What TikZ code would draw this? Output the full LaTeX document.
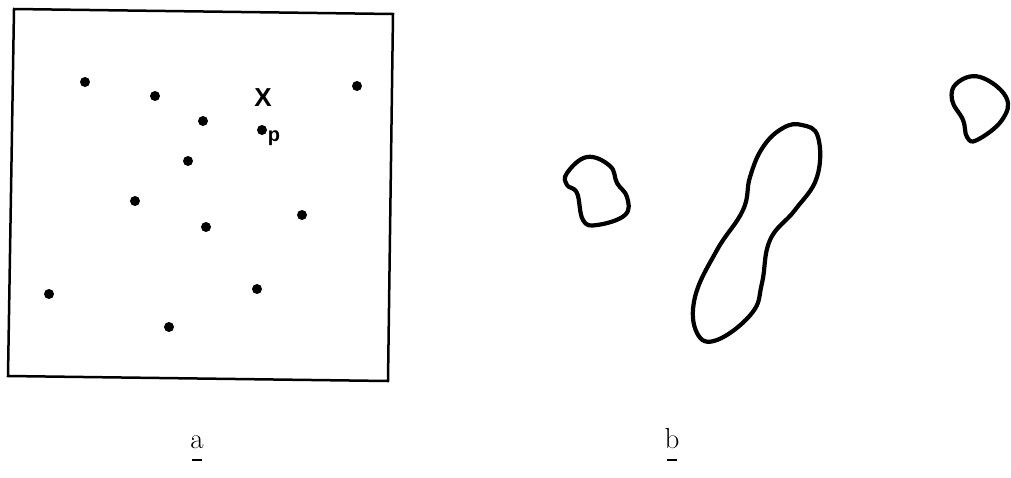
\documentclass[tikz,border=0pt]{standalone}
\usepackage{fontspec}
\newfontfamily\labsans{Liberation Sans}
\begin{document}
\begin{tikzpicture}[x=1pt,y=-1pt,
  dotmark/.style={fill=black},
  blob/.style={line width=4.2pt, line join=round},
  frame/.style={line width=2.5pt, line join=miter},
  sublabel/.style={font=\fontsize{29}{29}\selectfont, inner sep=0pt},
  uline/.style={line width=2.6pt}]
\useasboundingbox (0,0) rectangle (1011,477);
% panel a
\draw[frame] (14,9) -- (393,14) -- (388,381) -- (8,376) -- cycle;
\foreach \x/\y in {85/82,155/96,203/121,188/161,135/201,206/227,302/215,262/130,357/86,49/294,257/289,169/327}
  \fill[dotmark] (\x,\y) circle (5);
\node[inner sep=0pt, font=\labsans\bfseries\fontsize{26}{26}\selectfont] (X) at (263,98) {X};
\node[inner sep=0pt, font=\labsans\bfseries\fontsize{20}{20}\selectfont] (p) at (274,138) {p};
\node[sublabel, anchor=base] (la) at (197,448) {a};
\draw[uline] (192,460) -- (202,460);
% panel b
\draw[blob] plot[smooth cycle, tension=0.7] coordinates {(567,173) (587,157) (610,166) (617,183) (627,197) (625,215) (597,225) (583,220) (577,193) (567,185)};
\draw[blob] plot[smooth cycle, tension=0.7] coordinates {(802,125) (818,137) (817,177) (795,210) (770,240) (762,283) (752,313) (717,340) (697,333) (695,297) (717,250) (743,210) (750,177) (763,147) (783,128)};
\draw[blob] plot[smooth cycle, tension=0.7] coordinates {(980,77) (1006,97) (1002,120) (977,140) (967,137) (963,120) (952,100) (957,83)};
\node[sublabel, anchor=base] (lb) at (672,448) {b};
\draw[uline] (667,460) -- (677,460);
\end{tikzpicture}
\end{document}
